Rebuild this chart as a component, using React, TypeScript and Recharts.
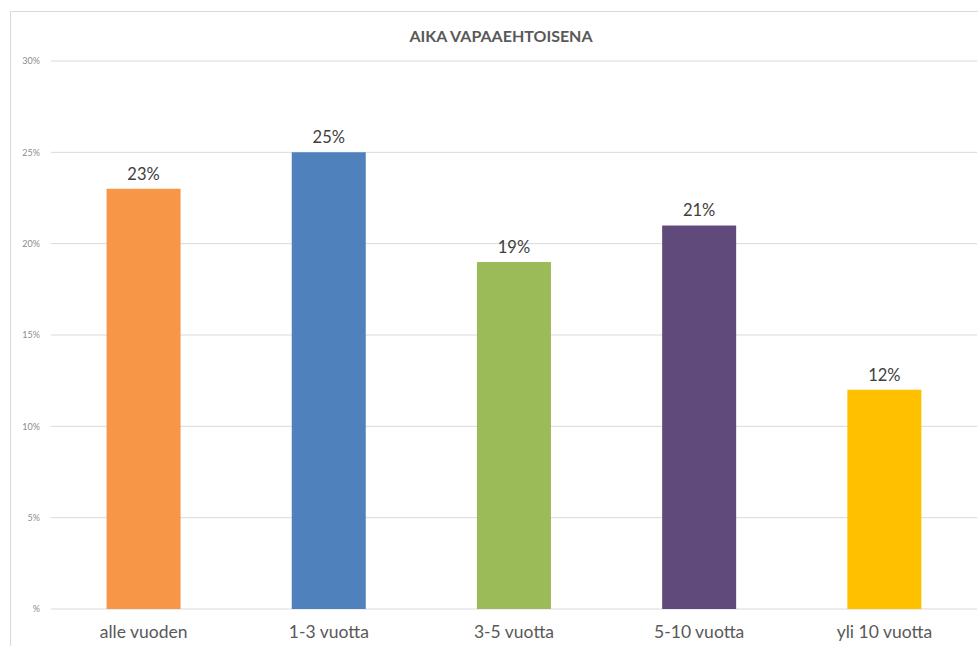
import React from "react";
import { BarChart, Bar, XAxis, YAxis, CartesianGrid, Cell, LabelList } from "recharts";

const categories = ["alle vuoden", "1-3 vuotta", "3-5 vuotta", "5-10 vuotta", "yli 10 vuotta"];
const shares = [0.23, 0.25, 0.19, 0.21, 0.12];
const barColors = ["#F79646", "#4F81BD", "#9BBB59", "#604A7B", "#FFC000"];
const yTicks = [0, 0.05, 0.1, 0.15, 0.2, 0.25, 0.3];

const data = categories.map((name, i) => ({ name, value: shares[i] }));

const font = "Lato, 'Open Sans', sans-serif";

const yFormat = (v: number) => (v === 0 ? "%" : `${Math.round(v * 100)}%`);
const labelFormat = (v: any) => `${Math.round(Number(v) * 100)}%`;

export default function App() {
  return (
    <div style={{ position: "absolute", left: 0, top: 0, width: 978, height: 646, background: "#fff", fontFamily: font }}>
      {/* chart frame, only left + top edges are visible */}
      <div
        style={{
          position: "absolute",
          left: 10,
          top: 11,
          right: 0,
          bottom: 0,
          borderLeft: "1px solid #d9d9d9",
          borderTop: "1px solid #d9d9d9",
        }}
      />
      <div
        style={{
          position: "absolute",
          left: 0,
          width: 1002,
          top: 26,
          textAlign: "center",
          fontSize: 16,
          fontWeight: 700,
          color: "#595959",
        }}
      >
        AIKA VAPAAEHTOISENA
      </div>
      <BarChart
        width={978}
        height={646}
        data={data}
        margin={{ top: 61, right: 1, bottom: 0, left: 0 }}
        barCategoryGap="30%"
        style={{ position: "absolute", left: 0, top: 0 }}
      >
        <CartesianGrid vertical={false} stroke="#d9d9d9" />
        <XAxis
          dataKey="name"
          height={37}
          axisLine={false}
          tickLine={false}
          tickMargin={11}
          interval={0}
          tick={{ fill: "#595959", fontSize: 17.5, fontFamily: font }}
        />
        <YAxis
          width={51}
          domain={[0, 0.3]}
          ticks={yTicks}
          tickFormatter={yFormat}
          axisLine={false}
          tickLine={false}
          tickMargin={5}
          tick={{ fill: "#8c8c8c", fontSize: 9, fontFamily: font }}
        />
        <Bar dataKey="value" isAnimationActive={false}>
          {data.map((d, i) => (
            <Cell key={d.name} fill={barColors[i]} />
          ))}
          <LabelList
            dataKey="value"
            position="top"
            offset={9}
            formatter={labelFormat}
            style={{ fill: "#404040", fontSize: 16.5, fontFamily: font }}
          />
        </Bar>
      </BarChart>
    </div>
  );
}
